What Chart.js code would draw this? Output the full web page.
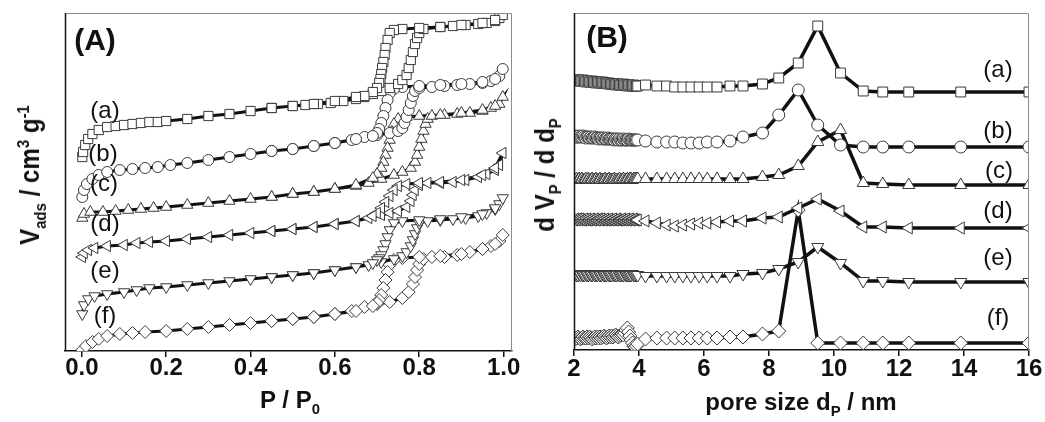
<!DOCTYPE html>
<html>
<head>
<meta charset="utf-8">
<script src="https://cdn.jsdelivr.net/npm/chart.js@4.4.0/dist/chart.umd.min.js"></script>
<style>
  body { margin: 0; background: #fff; }
  #wrap { position: relative; width: 1045px; height: 422px; font-family: "Liberation Sans", Arial, sans-serif; color: #111; }
  canvas { position: absolute; top: 0; }
  .t { position: absolute; white-space: nowrap; transform: translate(-50%, -50%); line-height: 1; }
  .lbl { font-size: 24px; }
  .panel { font-size: 30px; font-weight: bold; }
  .axt { font-size: 24px; font-weight: bold; }
  .rot { font-size: 28px; transform: translate(-50%, -50%) rotate(-90deg) scale(0.86, 1); }
  sub, sup { font-size: 62%; line-height: 0; }
</style>
</head>
<body>
<div id="wrap">
  <canvas id="iso" width="530" height="422" style="left:0"></canvas>
  <canvas id="psd" width="515" height="422" style="left:530px"></canvas>

  <div class="t panel" style="left:95px;top:40px">(A)</div>
  <div class="t lbl" style="left:105px;top:110px">(a)</div>
  <div class="t lbl" style="left:103px;top:153px">(b)</div>
  <div class="t lbl" style="left:104px;top:183px">(c)</div>
  <div class="t lbl" style="left:105px;top:223px">(d)</div>
  <div class="t lbl" style="left:105px;top:270px">(e)</div>
  <div class="t lbl" style="left:105px;top:315px">(f)</div>
  <div class="t axt rot" style="left:30px;top:175px">V<sub>ads</sub> / cm<sup>3</sup> g<sup>-1</sup></div>
  <div class="t axt" style="left:290px;top:400px">P / P<sub>0</sub></div>

  <div class="t panel" style="left:607px;top:37px">(B)</div>
  <div class="t lbl" style="left:998px;top:69px">(a)</div>
  <div class="t lbl" style="left:998px;top:130px">(b)</div>
  <div class="t lbl" style="left:999px;top:170px">(c)</div>
  <div class="t lbl" style="left:998px;top:210px">(d)</div>
  <div class="t lbl" style="left:998px;top:257px">(e)</div>
  <div class="t lbl" style="left:998px;top:317px">(f)</div>
  <div class="t axt rot" style="left:545px;top:175px">d V<sub>P</sub> / d d<sub>P</sub></div>
  <div class="t axt" style="left:801px;top:402px">pore size d<sub>P</sub> / nm</div>
</div>
<script>
// N2 isotherms, stacked with offsets (arbitrary units), adsorption then desorption
const adsP_a = [0.001,0.003,0.008,0.015,0.025,0.04,0.06,0.08,0.1,0.12,0.14,0.16,0.18,0.2,0.25,0.3,0.35,0.4,0.45,0.5,0.53,0.56,0.59,0.62,0.65,0.67,0.69,0.71,0.73,0.75,0.76,0.77,0.775,0.78,0.785,0.79,0.795,0.8,0.81,0.85,0.88,0.91,0.94,0.96,0.98,0.99,0.998];
const adsV_a = [194,199,206,212,217,221,224,225,226,227,228,229,229,230,232,235,237,240,243,245,246,247,248,250,252,254,257,260,263,267,271,276,283,291,299,307,313,318,322,324,325,326,327,328,330,333,336];
const desP_a = [0.98,0.95,0.9,0.85,0.8,0.76,0.74,0.73,0.725,0.72,0.718,0.715,0.712,0.71,0.708,0.705,0.7,0.69,0.67,0.65,0.6,0.55,0.5,0.45];
const desV_a = [331,328,326,324,323,322,321,318,311,303,296,289,283,277,272,268,263,259,255,254,250,247,245,243];

const adsP_b = [0.001,0.005,0.012,0.025,0.04,0.06,0.09,0.12,0.15,0.18,0.21,0.25,0.3,0.35,0.4,0.45,0.5,0.55,0.6,0.64,0.67,0.7,0.73,0.75,0.76,0.765,0.77,0.775,0.78,0.785,0.79,0.8,0.83,0.86,0.89,0.92,0.95,0.97,0.99,0.998];
const adsV_b = [154,161,167,172,176,179,181,182,183,184,186,188,191,194,197,200,202,205,208,211,214,216,218,220,223,228,234,241,248,255,260,263,264,265,266,267,268,270,275,282];
const desP_b = [0.98,0.95,0.9,0.85,0.8,0.76,0.74,0.73,0.725,0.72,0.715,0.71,0.705,0.7,0.69,0.65,0.6,0.55,0.5,0.45];
const desV_b = [272,269,267,266,265,264,262,258,251,243,235,228,222,218,215,212,208,205,202,200];

const adsP_c = [0.001,0.005,0.02,0.05,0.08,0.11,0.14,0.17,0.2,0.25,0.3,0.35,0.4,0.45,0.5,0.55,0.6,0.65,0.68,0.71,0.74,0.76,0.78,0.79,0.795,0.8,0.805,0.81,0.815,0.82,0.83,0.86,0.89,0.92,0.95,0.97,0.99,0.998];
const adsV_c = [133,137,139,139,140,141,142,143,144,146,148,150,152,154,157,159,162,165,168,172,176,179,183,189,196,204,212,220,227,232,235,236,237,238,240,243,247,254];
const desP_c = [0.98,0.95,0.9,0.85,0.8,0.77,0.75,0.74,0.735,0.73,0.725,0.72,0.715,0.71,0.7,0.69,0.65,0.6,0.55,0.5,0.45];
const desV_c = [245,241,238,236,235,234,232,227,219,211,203,196,189,183,177,173,166,162,159,157,154];

const adsP_d = [0.001,0.005,0.015,0.03,0.06,0.1,0.13,0.16,0.2,0.25,0.3,0.35,0.4,0.45,0.5,0.55,0.6,0.65,0.68,0.71,0.73,0.75,0.77,0.78,0.785,0.79,0.8,0.82,0.85,0.88,0.91,0.94,0.96,0.98,0.99,0.998];
const adsV_d = [94,98,101,103,105,106,108,109,110,112,114,116,118,120,122,124,127,130,133,136,138,140,144,150,156,161,166,168,168,169,171,174,177,181,186,198];
const desP_d = [0.98,0.95,0.9,0.85,0.8,0.77,0.75,0.74,0.73,0.72,0.71,0.7,0.69,0.65,0.6,0.55,0.5,0.45];
const desV_d = [183,176,171,169,168,167,165,161,155,149,143,138,135,130,127,124,122,120];

const adsP_e = [0.001,0.005,0.015,0.03,0.06,0.1,0.13,0.16,0.2,0.25,0.3,0.35,0.4,0.45,0.5,0.55,0.6,0.65,0.68,0.71,0.74,0.76,0.77,0.78,0.785,0.79,0.795,0.8,0.82,0.85,0.88,0.91,0.94,0.96,0.98,0.99,0.998];
const adsV_e = [37,46,52,55,57,59,61,63,64,66,68,70,72,74,76,78,81,84,86,89,92,95,99,105,111,117,123,128,130,131,132,133,135,138,142,147,153];
const desP_e = [0.98,0.95,0.9,0.85,0.8,0.76,0.74,0.73,0.725,0.72,0.715,0.71,0.705,0.7,0.69,0.65,0.6,0.55,0.5,0.45];
const desV_e = [143,137,134,132,131,130,128,121,114,107,101,96,93,91,88,84,81,78,76,74];

const adsP_f = [0.001,0.01,0.025,0.04,0.06,0.09,0.12,0.15,0.2,0.25,0.3,0.35,0.4,0.45,0.5,0.55,0.6,0.64,0.67,0.7,0.73,0.76,0.775,0.785,0.79,0.795,0.8,0.81,0.83,0.86,0.89,0.92,0.95,0.97,0.99,0.998];
const adsV_f = [1,5,9,12,15,17,18,19,20,22,24,26,28,30,32,34,37,40,44,47,49,53,59,67,74,81,87,92,94,94,96,99,102,105,110,116];
const desP_f = [0.98,0.95,0.9,0.85,0.8,0.76,0.74,0.73,0.725,0.72,0.715,0.71,0.705,0.7,0.69,0.65,0.6,0.55,0.5,0.45];
const desV_f = [107,102,97,95,94,93,91,86,79,71,63,56,51,48,45,40,37,34,32,30];

const pressureTicks = [0.0, 0.2, 0.4, 0.6, 0.8, 1.0];

// BJH pore size distributions, stacked (arbitrary units)
const poreSize = [2.00,2.04,2.08,2.12,2.16,2.20,2.24,2.28,2.32,2.36,2.40,2.44,2.48,2.52,2.56,2.60,2.64,2.68,2.72,2.76,2.80,2.84,2.88,2.92,2.96,
  3.00,3.04,3.08,3.12,3.16,3.20,3.24,3.28,3.32,3.36,3.40,3.44,3.48,3.52,3.56,3.60,3.64,3.68,3.72,3.76,3.80,3.84,3.88,3.92,3.96,
  4.2,4.55,4.85,5.1,5.35,5.6,5.85,6.1,6.4,6.8,
  7.2,7.8,8.3,8.9,9.5,10.2,10.9,11.5,12.3,13.9,16.0];
const psd_a = [270,270,269,270,270,269,269,270,269,268,269,269,268,268,269,268,268,267,268,268,267,267,268,267,267,
  267,266,267,266,266,266,266,265,266,266,265,265,265,266,265,265,264,265,265,264,264,265,264,264,264,
  265,264,264,263,263,263,263,263,263,264,
  264,266,272,287,324,277,259,258,258,258,258];
const psd_b = [213,214,213,213,214,213,213,214,213,212,213,213,212,213,212,212,213,212,212,211,212,212,211,212,211,
  211,212,211,211,211,211,210,211,211,210,211,210,210,211,210,210,210,211,210,210,210,210,210,210,210,
  209,208,208,208,207,207,207,208,208,209,
  213,217,235,260,225,205,203,203,203,203,203];
const psd_c = [171,170,171,170,171,170,171,170,170,171,170,171,170,170,171,170,170,171,170,170,171,170,170,170,171,
  170,170,171,170,170,170,171,170,170,170,171,170,170,171,170,170,171,170,171,171,170,171,171,171,171,
  171,171,171,171,171,171,171,171,171,171,
  171,173,175,184,208,220,167,166,165,165,165];
const psd_d = [130,131,130,131,130,131,130,130,131,130,131,130,130,131,130,130,131,130,130,131,130,131,130,130,131,
  130,130,131,130,130,131,130,130,131,130,130,130,131,130,130,131,130,130,131,130,130,131,130,130,130,
  129,127,125,124,125,126,127,127,128,129,
  129,132,133,142,151,139,123,123,122,122,122];
const psd_e = [75,76,75,75,76,75,76,75,75,76,75,75,76,75,75,76,75,75,75,76,75,75,76,75,75,
  75,76,75,75,75,76,75,75,75,76,75,75,75,75,76,75,75,75,75,75,76,75,75,75,75,
  74,74,74,74,74,74,74,74,74,74,
  76,77,81,88,103,87,69,69,68,68,68];
const psd_f = [12,11,12,13,12,11,12,13,12,12,13,12,13,12,11,12,13,12,13,12,13,12,13,14,13,
  12,13,14,13,14,13,14,15,14,13,14,15,16,15,17,20,22,18,14,10,7,4,3,4,6,
  11,12,12,12,12,12,12,12,12,13,
  13,16,19,140,7,7,7,7,7,7,7];

const poreTicks = [2, 4, 6, 8, 10, 12, 14, 16];

const markers = ['rect', 'circle', 'triangle', 'triangle', 'triangle', 'rectRot'];
const rotations = [0, 0, 0, -90, 180, 0];

const pairs = (xs, ys) => xs.map((x, i) => ({ x: x, y: ys[i] }));

const isoSeries = [
  pairs(adsP_a, adsV_a).concat(pairs(desP_a, desV_a)),
  pairs(adsP_b, adsV_b).concat(pairs(desP_b, desV_b)),
  pairs(adsP_c, adsV_c).concat(pairs(desP_c, desV_c)),
  pairs(adsP_d, adsV_d).concat(pairs(desP_d, desV_d)),
  pairs(adsP_e, adsV_e).concat(pairs(desP_e, desV_e)),
  pairs(adsP_f, adsV_f).concat(pairs(desP_f, desV_f)),
];
const psdSeries = [psd_a, psd_b, psd_c, psd_d, psd_e, psd_f].map(v => pairs(poreSize, v));

const radiiA = [6.5, 5.5, 6.5, 6.5, 6.5, 6.5];
const radiiB = [7, 6, 7, 7, 7, 7];

const makeSets = (series, radii, lineW) => series.map((pts, i) => ({
  data: pts,
  showLine: true,
  borderColor: '#111',
  borderWidth: lineW,
  pointStyle: markers[i],
  pointRotation: rotations[i],
  pointRadius: radii[i],
  pointBackgroundColor: '#fff',
  pointBorderColor: '#3a3a3a',
  pointBorderWidth: 1,
}));

// box around the plot: dark left axis, grey top and right
const frame = {
  id: 'frame',
  afterDraw(chart) {
    const { ctx, chartArea: a } = chart;
    ctx.save();
    ctx.strokeStyle = '#8c8c8c';
    ctx.lineWidth = 1;
    ctx.beginPath();
    ctx.moveTo(a.left, a.top + 0.5);
    ctx.lineTo(a.right - 0.5, a.top + 0.5);
    ctx.lineTo(a.right - 0.5, a.bottom);
    ctx.stroke();
    ctx.strokeStyle = '#111';
    ctx.lineWidth = 1.5;
    ctx.beginPath();
    ctx.moveTo(a.left + 0.5, a.top);
    ctx.lineTo(a.left + 0.5, a.bottom);
    ctx.stroke();
    ctx.restore();
  }
};

const tickFont = { family: '"Liberation Sans", Arial, sans-serif', size: 24, weight: 'bold' };

const buildChart = (id, series, radii, lineW, xr, yr, tickVals, digits, pad, axisH, tickPad) => new Chart(document.getElementById(id), {
  type: 'scatter',
  data: { datasets: makeSets(series, radii, lineW) },
  options: {
    responsive: false,
    animation: false,
    layout: { padding: pad },
    plugins: { legend: { display: false }, tooltip: { enabled: false } },
    scales: {
      x: {
        type: 'linear',
        min: xr[0],
        max: xr[1],
        afterBuildTicks: s => { s.ticks = tickVals.map(v => ({ value: v })); },
        afterFit: s => { s.height = axisH; },
        ticks: {
          color: '#111',
          font: tickFont,
          padding: tickPad,
          maxRotation: 0,
          callback: v => v.toFixed(digits),
        },
        grid: { drawOnChartArea: false, drawTicks: true, tickLength: 6, color: '#111', lineWidth: 1.5 },
        border: { display: true, color: '#111', width: 1.5 },
      },
      y: { display: false, min: yr[0], max: yr[1] },
    },
  },
  plugins: [frame],
});

buildChart('iso', isoSeries, radiiA, 3, [-0.04, 1.02], [0, 338], pressureTicks, 1,
  { left: 65, right: 18, top: 13, bottom: 0 }, 71, -3);
buildChart('psd', psdSeries, radiiB, 3.5, [2, 16], [0, 337], poreTicks, 0,
  { left: 44, right: 16, top: 13, bottom: 0 }, 72, -1);
</script>
</body>
</html>
